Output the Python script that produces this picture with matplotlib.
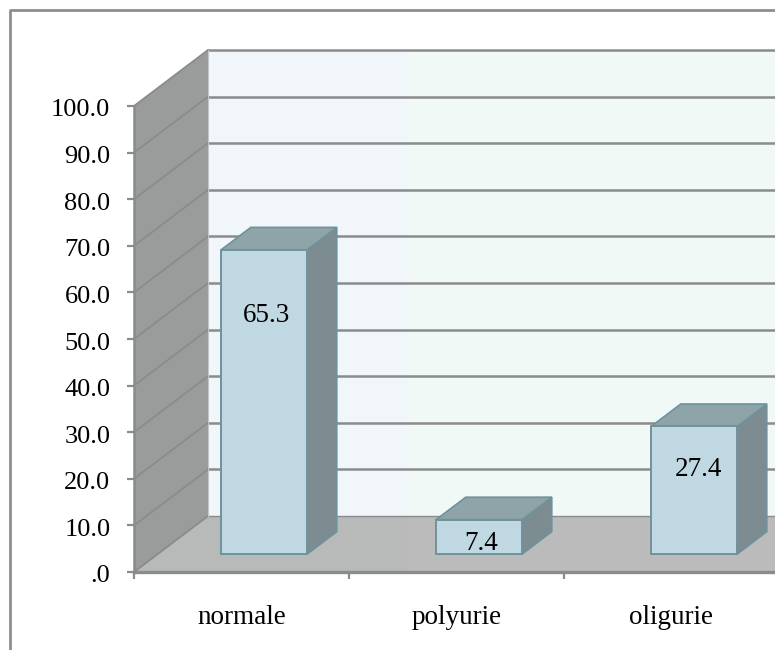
#!/usr/bin/env python

import matplotlib
matplotlib.use('Agg')
import matplotlib.pyplot as plt
from matplotlib.lines import Line2D
from matplotlib.transforms import ScaledTranslation
import numpy as np

categories = ['normale', 'polyurie', 'oligurie']
values = [65.3, 7.4, 27.4]
y_ticks = [0, 10, 20, 30, 40, 50, 60, 70, 80, 90, 100]
y_labels = ['.0', '10.0', '20.0', '30.0', '40.0', '50.0', '60.0', '70.0', '80.0', '90.0', '100.0']

W, H = 775, 650
LEFT, BOTTOM, TOP = 134, 572, 106
CAT_PX = 215.0
GRAY = '#8a8b8b'

plt.rcParams['font.family'] = ['Liberation Serif', 'DejaVu Serif']

fig = plt.figure(figsize=(W / 100, H / 100), dpi=100, facecolor='white')
ax = fig.add_axes([LEFT / W, (H - BOTTOM) / H, (W - LEFT) / W, (BOTTOM - TOP) / H])
ax.set_xlim(0, (W - LEFT) / CAT_PX)
ax.set_ylim(0, 100)
ax.patch.set_visible(False)

# depth of the fake 3d box, in data units
px_y = (BOTTOM - TOP) / 100.0
depth_x = 74 / CAT_PX
depth_y = 56 / px_y
xmax = ax.get_xlim()[1]


def shift(x, y, d):
	return x + d * depth_x, y + d * depth_y


# back wall, two slightly different panels
split = 274 / CAT_PX
ax.fill([depth_x, split, split, depth_x], [depth_y, depth_y, 100 + depth_y, 100 + depth_y],
	color='#f0f6f9', lw=0, clip_on=False, zorder=1)
ax.fill([split, xmax, xmax, split], [depth_y, depth_y, 100 + depth_y, 100 + depth_y],
	color='#f1f9f7', lw=0, clip_on=False, zorder=1)

# floor
ax.fill([0, depth_x, split, split], [0, depth_y, depth_y, 0], color='#b8baba', lw=0, zorder=1)
ax.fill([split, xmax, xmax, split], [0, 0, depth_y, depth_y], color='#bbbbbb', lw=0, zorder=1)

# side wall
ax.fill([0, depth_x, depth_x, 0], [0, depth_y, 100 + depth_y, 100], color='#9a9c9c', lw=0,
	clip_on=False, zorder=1)

# gridlines on both walls
for v in y_ticks:
	ax.plot([0, depth_x], [v, v + depth_y], color=GRAY, lw=1.3, clip_on=False, zorder=2)
	lw = 1.0 if v == 0 else 1.8
	ax.plot([depth_x, xmax], [v + depth_y, v + depth_y], color=GRAY, lw=lw, clip_on=False, zorder=2)
ax.plot([depth_x, depth_x], [depth_y, 100 + depth_y], color='#c4c6c6', lw=0.8, clip_on=False, zorder=2)

# bars
bar_w = 0.4
front = 0.32
back = 0.72
label_drop = [14.2, 5.1, 9.2]
label_nudge = [2, 2, 4]
centers = np.arange(len(values)) + 0.5
edge = '#6f929c'
base_x, base_y = shift(centers, 0, front)
base_x = base_x - 1 / CAT_PX
ax.bar(base_x, values, bar_w, bottom=base_y, color='#c0d8e1', edgecolor=edge, lw=1.4, zorder=4)
for i, v in enumerate(values):
	x0 = base_x[i] - bar_w / 2
	x1 = base_x[i] + bar_w / 2
	y0 = base_y
	y1 = base_y + v
	dx = (back - front) * depth_x
	dy = (back - front) * depth_y
	ax.fill([x1, x1 + dx, x1 + dx, x1], [y0, y0 + dy, y1 + dy, y1], facecolor='#7d8c90',
		edgecolor=edge, lw=1.2, zorder=3)
	ax.fill([x0, x1, x1 + dx, x0 + dx], [y1, y1, y1 + dy, y1 + dy], facecolor='#8fa4a8',
		edgecolor=edge, lw=1.2, zorder=3)
	ax.text(base_x[i] + label_nudge[i] / CAT_PX, y1 - label_drop[i], '%.1f' % v, ha='center', va='center',
		fontsize=19.5, color='black', zorder=5)

# axes
for s in ['top', 'right']:
	ax.spines[s].set_visible(False)
for s in ['left', 'bottom']:
	ax.spines[s].set_color(GRAY)
	ax.spines[s].set_zorder(6)
ax.spines['left'].set_linewidth(1.8)
ax.spines['bottom'].set_linewidth(2.4)

ax.set_yticks(y_ticks)
ax.set_yticklabels(y_labels, fontsize=19)
ax.tick_params(axis='y', length=5, width=1.6, color=GRAY, pad=12)
for label in ax.get_yticklabels():
	label.set_transform(label.get_transform() + ScaledTranslation(0, -2 / 100, fig.dpi_scale_trans))
ax.set_xticks(np.arange(len(categories) + 1)[:3])
ax.set_xticklabels([])
ax.tick_params(axis='x', length=5, width=1.6, color=GRAY)
ax.set_xticks(centers, minor=True)
ax.set_xticklabels(categories, minor=True, fontsize=19.5)
ax.tick_params(axis='x', which='minor', length=0, pad=24)

# outer chart frame
fig.add_artist(Line2D([9.5 / W, 9.5 / W, 1], [0, 1 - 10 / H, 1 - 10 / H], color='#8e8e8e', lw=2.0))

fig.savefig('out.png', dpi=100)
